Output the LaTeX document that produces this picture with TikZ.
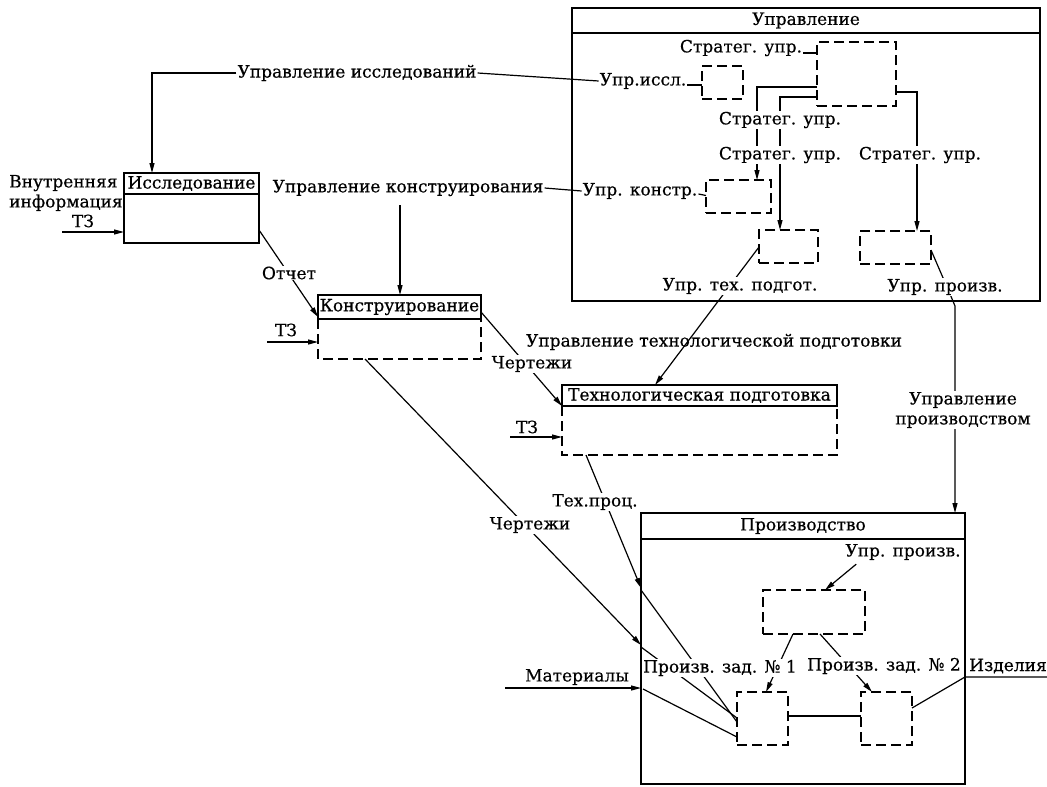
\documentclass[tikz,border=0pt]{standalone}
\usepackage{fontspec}
\setmainfont{DejaVu Serif}[FakeBold=0.5]
\usetikzlibrary{arrows.meta,calc,backgrounds}
\begin{document}
\begin{tikzpicture}[x=1pt,y=-1pt,
  every node/.style={font=\fontsize{17}{20}\selectfont},
  lbl/.style={inner sep=1pt},
  wl/.style={fill=white, inner sep=1pt},
  sbox/.style={draw, line width=1.3pt, inner sep=0pt, outer sep=0pt, anchor=north west},
  dbox/.style={draw, line width=1.3pt, dash pattern=on 10pt off 5pt, inner sep=0pt, outer sep=0pt, anchor=north west},
  frame/.style={inner sep=0pt, outer sep=0pt, anchor=north west},
  bline/.style={line width=1.3pt},
  dline/.style={line width=1.3pt, dash pattern=on 10pt off 5pt},
  conn/.style={line width=1.2pt},
  arr/.style={conn, -{Triangle[length=10pt,width=5pt]}},
]
\useasboundingbox (0,0) rectangle (1047,787);
\begin{pgfonlayer}{background}
\fill[white] (0,0) rectangle (1047,787);
\end{pgfonlayer}

% ---------- labels ----------
\node[lbl] (l-uisl) at (357,73) {Управление исследований};
\node[lbl, align=left, anchor=west] (l-vnut) at (8,193) {Внутренняя\\информация};
\node[lbl] (l-tz1) at (83,221) {ТЗ};
\node[lbl] (l-ukn) at (408,188) {Управление конструирования};
\node[wl] (l-otch) at (289,273) {Отчет};
\node[lbl] (l-tz2) at (286,330) {ТЗ};
\node[wl] (l-ch1) at (532,364) {Чертежи};
\node[lbl] (l-utpg) at (714,342) {Управление технологической подготовки};
\node[lbl] (l-tz3) at (527,427) {ТЗ};
\node[wl] (l-tp) at (595,502) {Тех.проц.};
\node[wl] (l-ch2) at (530,525) {Чертежи};
\node[lbl] (l-mat) at (577,677) {Материалы};
\node[wl, align=center] (l-upr2) at (963,410) {Управление\\производством};
\node[lbl] (l-s0) at (741,48) {Стратег. упр.};
\node[lbl] (l-uiss) at (643,81) {Упр.иссл.};
\node[wl] (l-s1) at (780,120) {Стратег. упр.};
\node[wl] (l-s2) at (780,155) {Стратег. упр.};
\node[wl] (l-s3) at (920,155) {Стратег. упр.};
\node[lbl] (l-ukon) at (640,191) {Упр. констр.};
\node[wl] (l-utp) at (740,286) {Упр. тех. подгот.};
\node[wl] (l-upz) at (945,287) {Упр. произв.};
\node[lbl] (l-pupz) at (903,552) {Упр. произв.};
\node[wl] (l-pz1) at (720,668) {Произв. зад. № 1};
\node[wl] (l-pz2) at (884,666) {Произв. зад. № 2};
\node[lbl] (l-izd) at (1008,666) {Изделия};

% ---------- boxes ----------
\node[sbox, minimum width=468pt, minimum height=293pt] (upr) at (572,8) {};
\draw[bline] ($(upr.north west)+(0,25)$) -- ($(upr.north east)+(0,25)$);
\node (t-upr) at ($(upr.north)+(0,12.5)$) {Управление};

\node[dbox, minimum width=79pt, minimum height=64pt] (strat) at (817,42) {};
\node[dbox, minimum width=41pt, minimum height=33pt] (uiss) at (702,66) {};
\node[dbox, minimum width=65pt, minimum height=33pt] (ukon) at (706,180) {};
\node[dbox, minimum width=59pt, minimum height=33pt] (utp) at (759,230) {};
\node[dbox, minimum width=71pt, minimum height=33pt] (upz) at (860,231) {};

\node[sbox, minimum width=135pt, minimum height=70pt] (issl) at (124,173) {};
\draw[bline] ($(issl.north west)+(0,21)$) -- ($(issl.north east)+(0,21)$);
\node (t-issl) at ($(issl.north)+(0,10.5)$) {Исследование};

\node[frame, minimum width=163pt, minimum height=64pt] (kons) at (318,295) {};
\draw[bline] (kons.north west) rectangle ($(kons.north east)+(0,24)$);
\draw[dline] ($(kons.north west)+(0,24)$) -- (kons.south west) -- (kons.south east) -- ($(kons.north east)+(0,24)$);
\node (t-kons) at ($(kons.north)+(0,12)$) {Конструирование};

\node[frame, minimum width=275pt, minimum height=70pt] (tech) at (562,385) {};
\draw[bline] (tech.north west) rectangle ($(tech.north east)+(0,21)$);
\draw[dline] ($(tech.north west)+(0,21)$) -- (tech.south west) -- (tech.south east) -- ($(tech.north east)+(0,21)$);
\node (t-tech) at ($(tech.north)+(0,10.5)$) {Технологическая подготовка};

\node[sbox, minimum width=324pt, minimum height=271pt] (proizv) at (641,513) {};
\draw[bline] ($(proizv.north west)+(0,26)$) -- ($(proizv.north east)+(0,26)$);
\node (t-proizv) at ($(proizv.north)+(0,13)$) {Производство};

\node[dbox, minimum width=102pt, minimum height=44pt] (pupr) at (763,590) {};
\node[dbox, minimum width=51pt, minimum height=53pt] (b1) at (737,692) {};
\node[dbox, minimum width=51pt, minimum height=53pt] (b2) at (861,692) {};

% ---------- free ends ----------
\coordinate (tz1) at (62,232);
\coordinate (tz2) at (267,342);
\coordinate (tz3) at (510,437);
\coordinate (mat0) at (505,688);
\coordinate (uz1) at (950,294);
\coordinate (uz2) at (955,306);
\coordinate (izd) at (1047,677);
\coordinate (kx) at ($(kons.north west)+(82,0)$);

% ---------- connectors ----------
\begin{pgfonlayer}{background}
\draw[arr] (l-uisl.west) -| ($(issl.north west)+(28,0)$);
\draw[conn] (l-uisl.east) -- (l-uiss.west);
\draw[conn] ($(l-uiss.east)+(0,4)$) -- ($(uiss.west)+(0,2.5)$);
\draw[arr] ($(kx |- l-ukn.south)+(0,8)$) -- (kx);
\draw[conn] (l-ukn.east) -- (l-ukon.west);
\draw[conn] ($(l-ukon.east)+(0,3)$) -- ($(ukon.west)+(0,-1)$);
\draw[conn] ($(l-s0.east)+(0,5)$) -- ($(strat.north west)+(0,11)$);
\draw[arr] ($(strat.north west)+(0,45)$) -| ($(ukon.north west)+(51,0)$);
\draw[arr] ($(strat.north west)+(0,55)$) -| ($(utp.north west)+(21,0)$);
\draw[arr] ($(strat.north east)+(0,50)$) -| ($(upz.north west)+(57,0)$);
\draw[arr] ($(utp.north west)+(0,17)$) -- ($(tech.north west)+(93,0)$);
\draw[arr] ($(upz.north east)+(0,19)$) -- (uz1) -- (uz2) -- (uz2 |- proizv.north);

\draw[arr] (tz1) -- (tz1 -| issl.west);
\draw[arr] (tz2) -- (tz2 -| kons.west);
\draw[arr] (tz3) -- (tz3 -| tech.west);

\draw[arr] ($(issl.north east)+(0,57)$) -- ($(kons.north west)+(0,22)$);
\draw[arr] ($(kons.north east)+(0,17)$) -- ($(tech.north west)+(0,21)$);
\draw[arr] ($(kons.south west)+(47,0)$) -- ($(proizv.north west)+(0,132)$);
\draw[conn] ($(proizv.north west)+(0,134)$) -- ($(b1.north west)+(0,26)$);
\draw[arr] ($(tech.south west)+(24,0)$) -- ($(proizv.north west)+(0,75)$);
\draw[conn] ($(proizv.north west)+(0,77)$) -- ($(b1.north west)+(0,30)$);
\draw[arr] (mat0) -- (mat0 -| proizv.west);
\draw[conn] ($(proizv.north west)+(2,176)$) -- ($(b1.north west)+(0,45)$);

\draw[arr] ($(l-pupz.south west)+(12,3)$) -- ($(pupr.north west)+(62,0)$);
\draw[arr] ($(pupr.south west)+(30,0)$) -- ($(b1.north west)+(29,0)$);
\draw[arr] ($(pupr.south west)+(57,0)$) -- ($(b2.north west)+(11,0)$);
\draw[conn] ($(b1.north east)+(0,24)$) -- ($(b2.north west)+(0,24)$);
\draw[conn] ($(b2.north east)+(0,16)$) -- ($(proizv.north east)+(0,164)$) -- (izd);
\end{pgfonlayer}
\end{tikzpicture}
\end{document}
